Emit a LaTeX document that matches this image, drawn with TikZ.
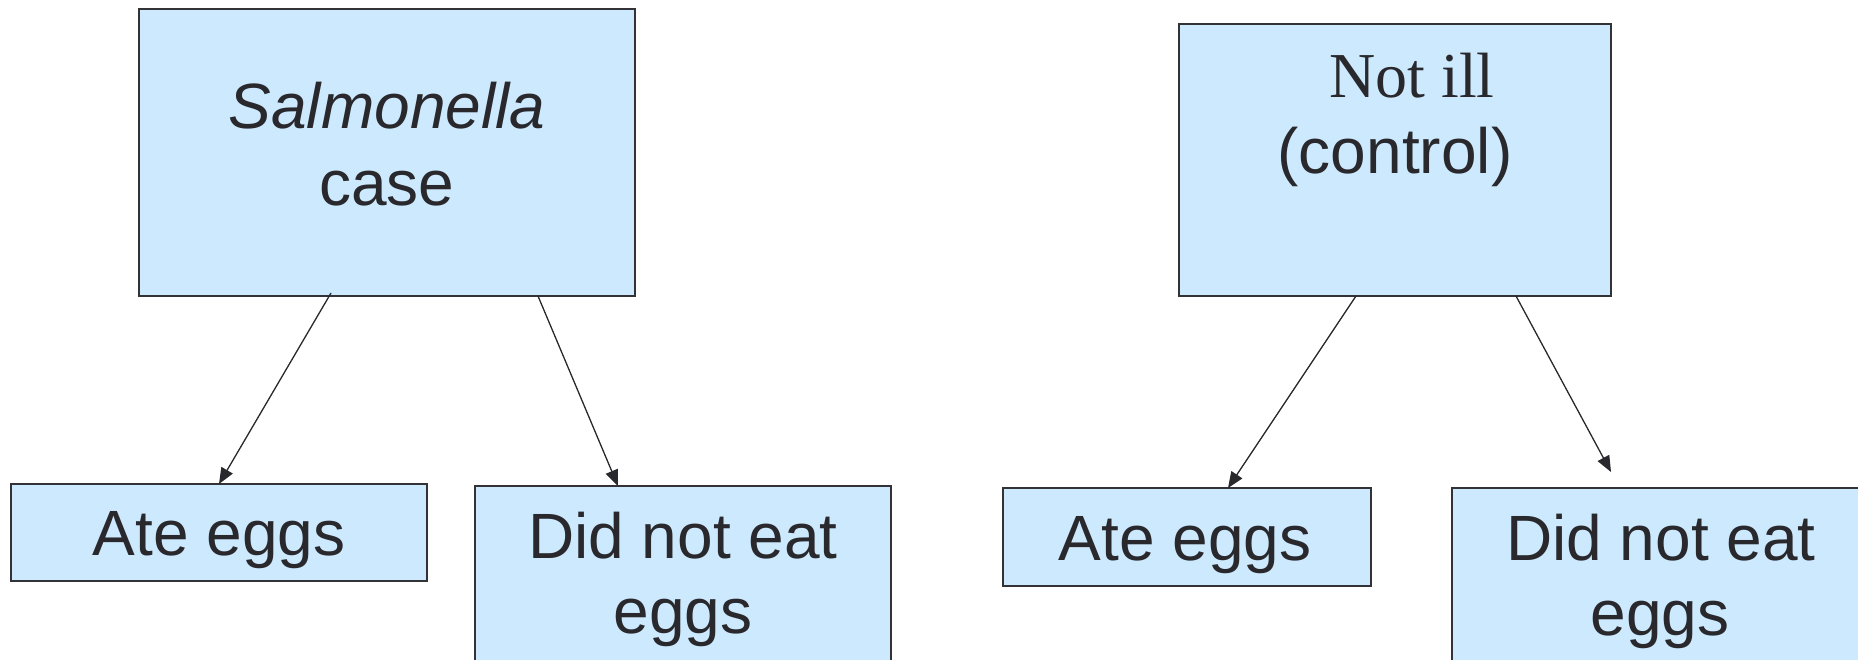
\documentclass[tikz,border=0pt]{standalone}
\usepackage{fontspec}
\setmainfont{Liberation Sans}
\newfontfamily\tnr{Liberation Serif}
\usetikzlibrary{arrows.meta,calc}
\definecolor{boxfill}{RGB}{205,233,253}
\definecolor{boxline}{RGB}{51,51,55}
\definecolor{txt}{RGB}{40,40,45}
\begin{document}
\begin{tikzpicture}[x=1pt,y=-1pt,
  box/.style={draw=boxline,fill=boxfill,line width=2pt,rectangle,inner sep=0pt,outer sep=0pt,anchor=north west},
  lbl/.style={anchor=base,inner sep=0pt,text=txt,font=\fontsize{64}{77}\selectfont},
  conn/.style={draw=txt,line width=1.3pt,-{Triangle[length=16pt,width=13pt]}}]
\useasboundingbox (0,0) rectangle (1858,659);
\clip (0,0) rectangle (1858,659);
% boxes
\node[box,minimum width=496pt,minimum height=287pt] (S) at (139,9) {};
\node[box,minimum width=432pt,minimum height=272pt] (N) at (1179,24) {};
\node[box,minimum width=416pt,minimum height=97pt] (A1) at (11,484) {};
\node[box,minimum width=416pt,minimum height=230pt] (D1) at (475,486) {};
\node[box,minimum width=368pt,minimum height=98pt] (A2) at (1003,488) {};
\node[box,minimum width=418pt,minimum height=230pt] (D2) at (1452,488) {};
% texts
\node[lbl] (t1) at (387,128) {\itshape Salmonella};
\node[lbl] (t2) at (387,205) {case};
\node[lbl] (t3) at (1412,97) {\tnr Not ill};
\node[lbl] (t4) at (1395,173) {(control)};
\node[lbl] (t5) at (219,555) {Ate eggs};
\node[lbl] (t6) at (683,558) {Did not eat};
\node[lbl] (t7) at (683,633) {eggs};
\node[lbl] (t8) at (1185,560) {Ate eggs};
\node[lbl] (t9) at (1661,560) {Did not eat};
\node[lbl] (t10) at (1660,635) {eggs};
% connectors
\coordinate (e4) at (1611,472);
\draw[conn] ($(S.south west)+(192,-3)$) -- (A1.north);
\draw[conn] ($(S.south west)+(399,0)$) -- ($(D1.north west)+(143,0)$);
\draw[conn] ($(N.south west)+(177,0)$) -- ($(A2.north west)+(225,0)$);
\draw[conn] ($(N.south west)+(337,0)$) -- (e4);
\end{tikzpicture}
\end{document}
